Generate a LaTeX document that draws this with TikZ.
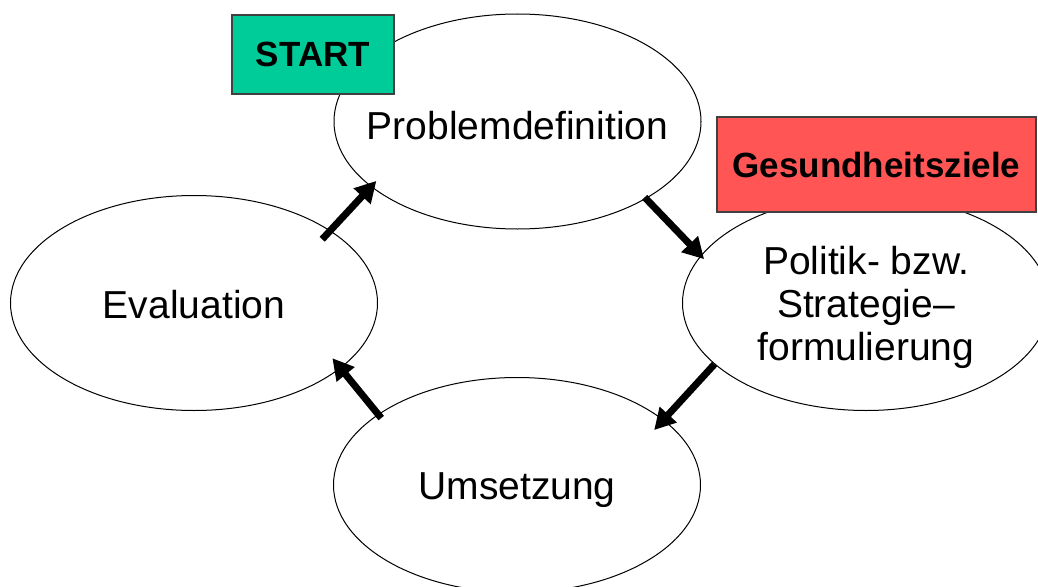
\documentclass[tikz,border=0pt]{standalone}
\usepackage{fontspec}
\setmainfont{Liberation Sans}
\usetikzlibrary{shapes.geometric,arrows.meta}
\definecolor{startgreen}{HTML}{00CC99}
\definecolor{goalred}{HTML}{FF5555}
\begin{document}
\begin{tikzpicture}[x=1pt,y=-1pt,
  stage/.style={ellipse, draw=black, line width=1pt, fill=white,
    minimum width=367pt, minimum height=215pt, inner sep=0pt},
  stagetext/.style={font=\fontsize{39}{43}\selectfont, align=center, inner sep=0pt},
  tag/.style={draw=black!75, line width=1.1pt, inner sep=0pt,
    font=\fontsize{35}{40}\selectfont\bfseries},
  flow/.style={line width=7pt, -{Triangle[length=21pt,width=22pt]}}]
\useasboundingbox (0,0) rectangle (1038,586);
\clip (0,0) rectangle (1038,586);
% stages
\node[stage] (prob) at (517.5,121.5) {};
\node[stage] (eval) at (194,303) {};
\node[stage] (pol)  at (866,303) {};
\node[stage] (ums)  at (517,485) {};
\node[stagetext, yshift=-4pt] (probtxt) at (prob) {Problemdefinition};
\node[stagetext, yshift=-2pt] (evaltxt) at (eval) {Evaluation};
\node[stagetext, yshift=-4pt] (poltxt)  at (pol)  {Politik- bzw.\\Strategie--\\formulierung};
\node[stagetext, yshift=-5pt] (umstxt)  at (ums)  {Umsetzung};
% tags
\node[tag, fill=startgreen, minimum width=162pt, minimum height=79pt] (start) at (313,54.5) {START};
\node[tag, fill=goalred, minimum width=319pt, minimum height=95pt] (goal) at (876.5,164.5) {Gesundheitsziele};
% flow arrows
\draw[flow, shorten <=-12pt, shorten >=-8pt] (eval.28) -- (prob.204);
\draw[flow, shorten <=-2pt, shorten >=-5pt] (prob.329) -- (pol.164);
\draw[flow, shorten >=-14pt] (pol.202) -- (ums.24);
\draw[flow, shorten <=-5pt, shorten >=-13pt] (ums.153) -- (eval.336);
\end{tikzpicture}
\end{document}
